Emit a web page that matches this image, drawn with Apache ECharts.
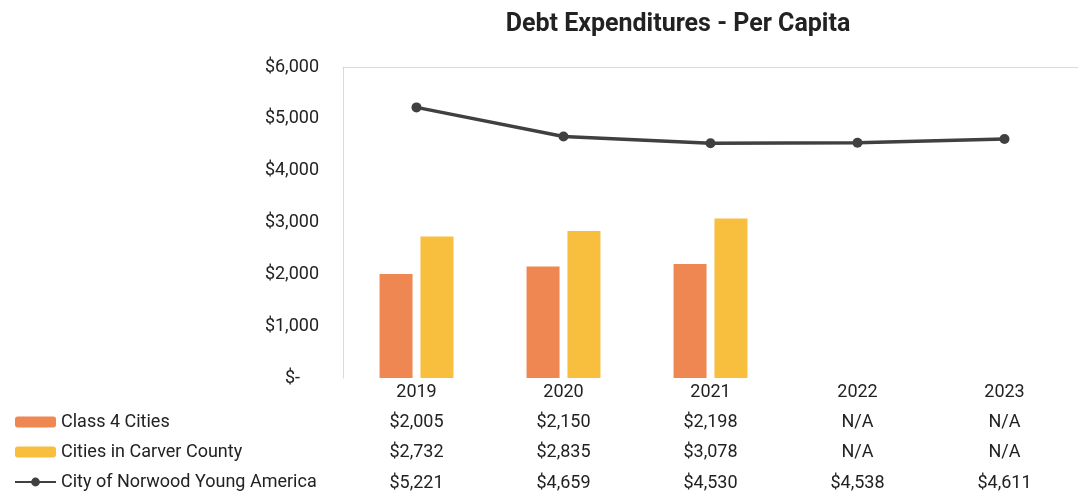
<!DOCTYPE html>
<html>
<head>
<meta charset="utf-8">
<script src="https://cdn.jsdelivr.net/npm/echarts@6/dist/echarts.min.js"></script>
<style>html,body{margin:0;padding:0;background:#fff}#c{width:1078px;height:494px}</style>
</head>
<body>
<div id="c"></div>
<script>
const categories = ['2019', '2020', '2021', '2022', '2023'];
const class4Cities = [2005, 2150, 2198, null, null];
const carverCounty = [2732, 2835, 3078, null, null];
const norwood = [5221, 4659, 4530, 4538, 4611];
const yTicks = [0, 1000, 2000, 3000, 4000, 5000, 6000];

const FONT = 'Roboto, "Open Sans", sans-serif';
const FS = 18;
const fmt = v => (v === null || v === undefined) ? 'N/A' : '$' + v.toLocaleString('en-US');

const chart = echarts.init(document.getElementById('c'), null, {renderer: 'canvas'});

function tableAxis(arr, offset) {
  return {
    type: 'category', data: categories, position: 'bottom', gridIndex: 0, offset: offset,
    axisLine: {show: false}, axisTick: {show: false},
    axisLabel: {
      show: true, interval: 0, margin: 5, color: '#222', fontFamily: FONT, fontSize: FS,
      formatter: (val, idx) => fmt(arr[idx])
    }
  };
}

chart.setOption({
  animation: false,
  backgroundColor: '#fff',
  title: {
    text: 'Debt Expenditures - Per Capita', left: 673, textAlign: 'center', top: 7,
    textStyle: {fontFamily: FONT, fontWeight: 'bold', fontSize: 25, color: '#222'}
  },
  legend: {
    orient: 'vertical', left: 14, top: 412, padding: 0, height: 82, itemGap: 10, itemWidth: 41, itemHeight: 11,
    textStyle: {fontFamily: FONT, fontSize: FS, color: '#222', lineHeight: 20},
    data: ['Class 4 Cities', 'Cities in Carver County', 'City of Norwood Young America']
  },
  grid: {left: 343, top: 67, width: 750, height: 311, containLabel: false},
  xAxis: [
    {
      type: 'category', data: categories, position: 'bottom',
      axisLine: {show: false}, axisTick: {show: false},
      axisLabel: {interval: 0, margin: 5, color: '#222', fontFamily: FONT, fontSize: FS}
    },
    tableAxis(class4Cities, 30),
    tableAxis(carverCounty, 60),
    tableAxis(norwood, 91),
    {
      type: 'category', data: categories, position: 'top',
      axisLine: {show: true, lineStyle: {color: '#d9d9d9', width: 1}},
      axisTick: {show: false}, axisLabel: {show: false}
    }
  ],
  yAxis: {
    type: 'value', min: yTicks[0], max: yTicks[yTicks.length - 1], interval: 1000,
    splitLine: {show: false},
    axisLine: {show: true, lineStyle: {color: '#d9d9d9', width: 1}},
    axisTick: {show: false},
    axisLabel: {
      margin: 24, color: '#222', fontFamily: FONT, fontSize: FS,
      formatter: v => v === 0 ? '{z|$-}' : '$' + v.toLocaleString('en-US'),
      rich: {z: {fontFamily: FONT, fontSize: FS, color: '#222', padding: [0, 19, 0, 0]}}
    }
  },
  series: [
    {
      name: 'Class 4 Cities', type: 'bar', data: class4Cities,
      barWidth: 33, barGap: '24%', itemStyle: {color: '#EF8753'}
    },
    {
      name: 'Cities in Carver County', type: 'bar', data: carverCounty,
      barWidth: 33, itemStyle: {color: '#F8BE3E'}
    },
    {
      name: 'City of Norwood Young America', type: 'line', data: norwood,
      symbol: 'circle', symbolSize: 10, lineStyle: {color: '#404040', width: 3.5},
      itemStyle: {color: '#404040'}
    }
  ]
});
</script>
</body>
</html>
